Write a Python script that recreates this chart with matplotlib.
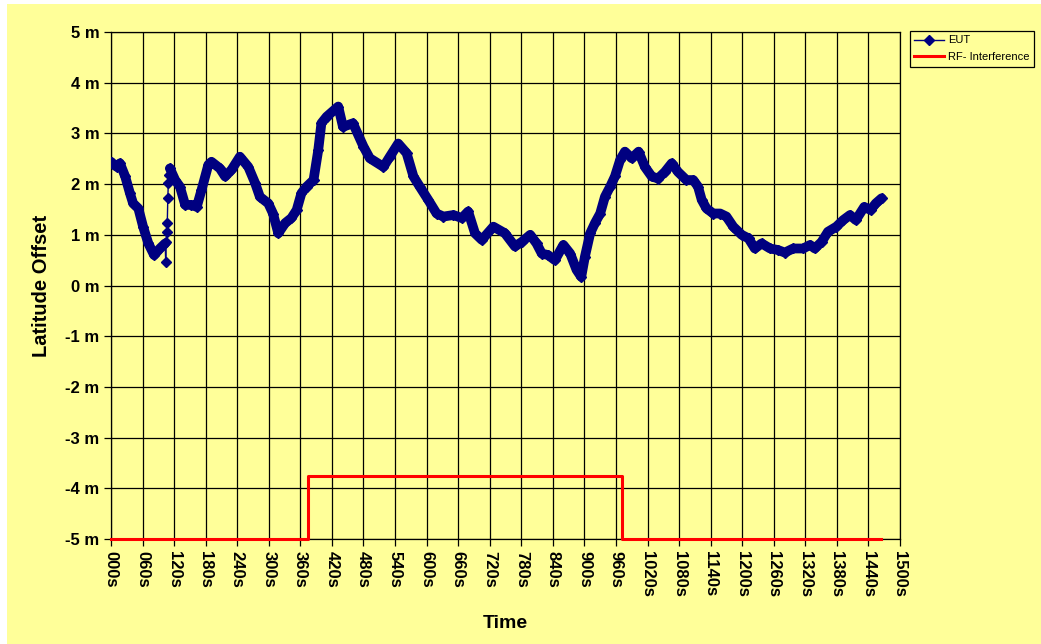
import numpy as np
import matplotlib
matplotlib.use("Agg")
import matplotlib.pyplot as plt
from matplotlib.patches import Rectangle
from matplotlib.ticker import FuncFormatter

plt.rcParams['font.family'] = ['Liberation Sans', 'DejaVu Sans']

# EUT latitude offset (m) against time (s)
eut_t = [0, 4, 11, 17, 27, 36, 42, 52, 61, 71, 82, 93, 103,
         104, 105, 106, 107, 108, 109, 110,
         112, 122, 131, 141, 153, 163, 172, 185, 191, 207, 217, 229, 245,
         261, 274, 283, 299, 308, 318, 331, 343, 353, 362, 372, 385, 394,
         400, 410, 432, 441, 460, 480, 492, 518, 530, 546, 562, 575, 587,
         603, 619, 632, 651, 667, 679, 692, 705, 727, 749, 768, 781, 797,
         809, 819, 831, 844, 860, 873, 885, 894, 901, 911, 920, 930, 939,
         949, 958, 968, 977, 990, 1003, 1015, 1028, 1040, 1053, 1066, 1078,
         1094, 1107, 1116, 1123, 1132, 1145, 1158, 1170, 1183, 1199, 1212,
         1224, 1237, 1253, 1268, 1281, 1297, 1316, 1329, 1338, 1351, 1363,
         1379, 1392, 1405, 1416, 1432, 1444, 1454, 1465]
eut_v = [2.44, 2.40, 2.34, 2.41, 2.15, 1.82, 1.62, 1.52, 1.16, 0.83, 0.60, 0.73, 0.83,
         0.47, 0.86, 1.06, 1.24, 1.72, 2.02, 2.18,
         2.31, 2.08, 1.95, 1.59, 1.59, 1.55, 1.88, 2.38, 2.44, 2.31, 2.15, 2.28, 2.54,
         2.34, 2.02, 1.75, 1.62, 1.42, 1.03, 1.23, 1.33, 1.49, 1.82, 1.95, 2.08, 2.67,
         3.20, 3.33, 3.53, 3.13, 3.20, 2.74, 2.51, 2.34, 2.54, 2.80, 2.61, 2.15, 1.95,
         1.69, 1.42, 1.36, 1.39, 1.33, 1.46, 1.03, 0.90, 1.16, 1.03, 0.77, 0.86, 1.00,
         0.83, 0.63, 0.60, 0.50, 0.80, 0.63, 0.31, 0.17, 0.57, 1.03, 1.23, 1.42, 1.75,
         1.95, 2.15, 2.48, 2.64, 2.51, 2.64, 2.34, 2.15, 2.11, 2.24, 2.41, 2.24,
         2.08, 2.08, 1.95, 1.69, 1.52, 1.42, 1.42, 1.36, 1.16, 1.00, 0.93,
         0.73, 0.83, 0.73, 0.70, 0.65, 0.73, 0.73, 0.80, 0.73, 0.86, 1.06,
         1.16, 1.29, 1.39, 1.29, 1.55, 1.49, 1.62, 1.72]
# samples of the short position jump right after 100 s
glitch_idx = range(13, 20)

# RF interference on/off level
rf_t = [0, 374, 972, 1464]
rf_v = [-5.0, -3.75, -5.0, -5.0]

x_ticks = np.arange(0, 1501, 60)
y_ticks = np.arange(-5, 6, 1)

yellow = '#FFFF99'
navy = '#000080'

fig = plt.figure(figsize=(10.41, 6.44), dpi=100, facecolor='white')
fig.patches.append(Rectangle((7 / 1041, 0), 1, 1 - 4 / 644, transform=fig.transFigure,
                             facecolor=yellow, edgecolor='none', zorder=-10))
ax = fig.add_axes([111 / 1041, 1 - 539 / 644, 789 / 1041, 507 / 644])
ax.set_facecolor(yellow)

# dense marker band, broken where the jump happens
band = np.array(eut_v, dtype=float)
band[list(glitch_idx)] = np.nan
ax.plot(eut_t, band, color=navy, lw=7, solid_capstyle='round', solid_joinstyle='round',
        zorder=3)
ax.plot(eut_t, eut_v, color=navy, lw=1, marker='D', ms=5, label='EUT', zorder=4)

ax.plot(rf_t, rf_v, color='red', lw=2.2, drawstyle='steps-post',
        label='RF- Interference', clip_on=False, zorder=5)

ax.set_xlim(0, 1500)
ax.set_ylim(-5, 5)
ax.set_xticks(x_ticks)
ax.set_yticks(y_ticks)
ax.xaxis.set_major_formatter(FuncFormatter(lambda v, p: f"{int(v):03d}s"))
ax.yaxis.set_major_formatter(FuncFormatter(lambda v, p: f"{int(v)} m"))
ax.grid(True, color='black', lw=0.9)
ax.set_axisbelow(True)
for s in ax.spines.values():
    s.set_color('black')
    s.set_linewidth(0.9)

ax.tick_params(axis='both', direction='out', length=5, width=0.9, color='black')
for lab in ax.get_xticklabels():
    lab.set_rotation(270)
    lab.set_fontweight('bold')
    lab.set_fontsize(12)
for lab in ax.get_yticklabels():
    lab.set_fontweight('bold')
    lab.set_fontsize(12)

ax.set_xlabel('Time', fontsize=14, fontweight='bold', labelpad=13)
ax.set_ylabel('Latitude Offset', fontsize=14.5, fontweight='bold', labelpad=10)

leg = ax.legend(loc='upper left', bbox_to_anchor=(910 / 1041, 1 - 31 / 644),
                bbox_transform=fig.transFigure, borderaxespad=0, fontsize=8,
                frameon=True, fancybox=False, edgecolor='black', facecolor=yellow,
                framealpha=1, handlelength=2.7, borderpad=0.4, labelspacing=0.6,
                handletextpad=0.3)
leg.get_frame().set_linewidth(0.9)

fig.savefig('out.png', dpi=100, facecolor=fig.get_facecolor())
